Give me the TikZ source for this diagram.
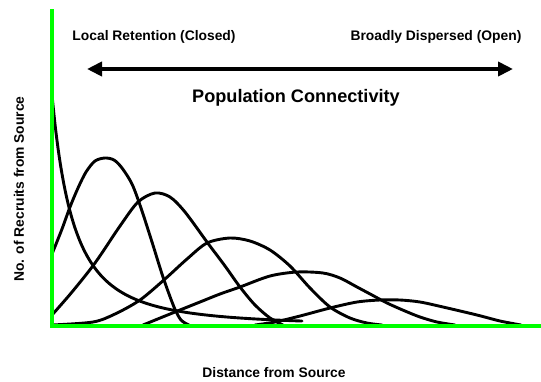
\documentclass[tikz,border=0pt]{standalone}
\usepackage{fontspec}
\setmainfont{Liberation Sans}
\usetikzlibrary{arrows.meta}
\definecolor{axisgreen}{RGB}{0,255,0}

\begin{document}
\begin{tikzpicture}[x=1bp, y=-1bp,
    smalltext/.style={font=\bfseries\fontsize{13.9}{16}\selectfont},
    bigtext/.style={font=\bfseries\fontsize{18.2}{21}\selectfont},
    curve/.style={line width=2.9bp, line cap=round, line join=round},
    axis/.style={line width=4.5bp, axisgreen},
    conn/.style={line width=3.8bp, {Triangle[length=15bp, width=14bp]}-{Triangle[length=15bp, width=14bp]}}]
    \useasboundingbox (0,0) rectangle (541,381);

    \node[smalltext] (closed) at (154,37) {Local Retention (Closed)};
    \node[smalltext] (open) at (436,37) {Broadly Dispersed (Open)};
    \node[bigtext] (connect) at (296,98) {Population Connectivity};
    \node[smalltext, rotate=90] (ylab) at (19,189) {No. of Recruits from Source};
    \node[smalltext] (xlab) at (274,373) {Distance from Source};

    \coordinate (left) at (87,69);
    \coordinate (right) at (513,69);
    \draw[conn] (left) -- (right);

    % dispersal kernels
    \draw[curve] plot[domain=0:250, samples=80, smooth] ({52+\x}, {326-231/(1+\x/43)^2});
    \draw[curve] plot[smooth] coordinates {(52,254) (62,229) (70,207) (78,188) (86,172) (95,161) (105,158) (114,160) (122,168) (132,184) (141,208) (152,242) (163,277) (174,307) (181,320) (189,325)};
    \draw[curve] plot[smooth] coordinates {(52,315) (72,292) (95,263) (120,226) (138,202) (155,193) (170,197) (185,212) (207,242) (225,266) (240,287) (255,305) (270,318) (283,325)};
    \draw[curve] plot[smooth] coordinates {(52,325) (93,322) (115,314) (140,300) (165,279) (187,259) (207,243) (230,238) (250,241) (270,250) (290,266) (310,288) (330,307) (350,318) (367,323) (382,325)};
    \draw[curve] plot[smooth] coordinates {(143,325) (170,314) (200,302) (220,294) (240,287) (270,276) (297,272) (323,273) (340,278) (357,287) (372,295) (387,303) (405,311) (420,317) (437,322) (455,325)};
    \draw[curve] plot[smooth] coordinates {(255,325) (275,322) (300,316) (330,308) (357,302) (380,300) (400,300) (420,302) (443,307) (477,315) (500,321) (521,325)};

    % axes
    \coordinate (top) at (52,9);
    \coordinate (origin) at (52,326);
    \coordinate (end) at (541,326);
    \draw[axis] (top) -- (origin) -- (end);
\end{tikzpicture}
\end{document}
